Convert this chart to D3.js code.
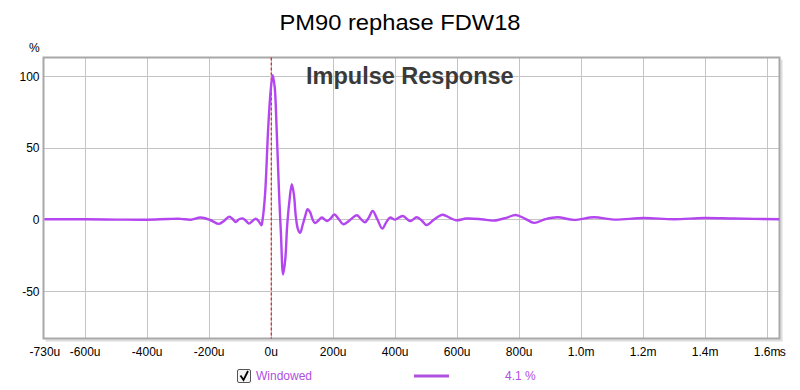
<!DOCTYPE html>
<html><head><meta charset="utf-8">
<script src="https://cdn.jsdelivr.net/npm/d3@7/dist/d3.min.js"></script>
<style>body{margin:0;background:#fff}svg{display:block;font-family:"Liberation Sans",Arial,sans-serif}</style>
</head><body><svg id="c" width="800" height="390"></svg>
<script>
const title = "PM90 rephase FDW18";
const chartLabel = "Impulse Response";
const seriesName = "Windowed";
const seriesNote = "4.1 %";
const xTicks = [-730,-600,-400,-200,0,200,400,600,800,1000,1200,1400,1600];
const xTickLabels = ["-730u","-600u","-400u","-200u","0u","200u","400u","600u","800u","1.0m","1.2m","1.4m","1.6m"];
const yTicks = [-50,0,50,100];
const yTickLabels = ["-50","0","50","100"];
// time in microseconds
const timeUs = [-730,-600,-500,-400,-330,-290,-258,-226,-195,-167,-150,-134,-122,-113,-102,-91,-80,-70,-58,-48,-38,-30,-26,-18,-8,0,6.5,13,19,27,33,40,47,53,60,68,75,81,88,95,103,111,119,127,135,143,153,165,173,181,193,205,220,234,256,278,292,304,316,329,344,360,373,385,401,426,450,471,488,503,528,554,578,598,632,680,720,760,790,820,850,885,925,978,1043,1107,1204,1300,1398,1494,1641];
// impulse response, percent
const valuePct = [0,0,-0.2,-0.3,0.2,0.3,-0.3,1.2,-0.5,-3.2,-1,1.8,0,-1.9,0,0.6,-1,-3,-1,0.4,-1.5,-4.2,0,18,64,90,100.5,92,64,18,-10,-38.5,-28,-5,12,24.5,17,2,-7,-9.5,-4,2,7,5,0,-2.6,-1,1.2,0,-1.2,0.5,3.3,0,-3.5,-0.5,2.8,0,-2.1,1,5.8,0,-6.5,-2,1.2,-0.2,2.3,-1.2,1.4,-1,-4,0,3.2,1,-0.7,0.5,0,-0.9,1,3.0,0.5,-2.5,0,1.4,-0.4,1.4,-0.2,0.9,0,0.9,0.5,0];

const svg = d3.select("#c");
const x = d3.scaleLinear().domain([-730,1641]).range([44.4,779.4]);
const y = d3.scaleLinear().domain([-83,113]).range([338.2,57.4]);
const L=43.5,T=57.5,R=779.5,B=338.5;

svg.append("text").attr("x",400).attr("y",30).attr("text-anchor","middle")
  .attr("font-size",22.5).attr("fill","#000")
  .attr("textLength",241).attr("lengthAdjust","spacingAndGlyphs").text(title);

// grid
const g = svg.append("g");
g.selectAll(".vx").data(xTicks.filter(v=>v>-730)).enter().append("line")
  .attr("x1",d=>Math.round(x(d))+0.5).attr("x2",d=>Math.round(x(d))+0.5).attr("y1",T).attr("y2",B)
  .attr("stroke","#c4c4c4").attr("stroke-width",1);
g.selectAll(".hy").data(yTicks).enter().append("line")
  .attr("y1",d=>Math.round(y(d))+0.5).attr("y2",d=>Math.round(y(d))+0.5).attr("x1",L).attr("x2",R)
  .attr("stroke","#c4c4c4").attr("stroke-width",1);

// frame with shadow
svg.append("line").attr("x1",R+2).attr("x2",R+2).attr("y1",T+2).attr("y2",B+2).attr("stroke","#dcdcdc").attr("stroke-width",2);
svg.append("line").attr("x1",L+2).attr("x2",R+3).attr("y1",B+2).attr("y2",B+2).attr("stroke","#dcdcdc").attr("stroke-width",2);
svg.append("rect").attr("x",L).attr("y",T).attr("width",R-L).attr("height",B-T)
  .attr("fill","none").attr("stroke","#a8a8a8").attr("stroke-width",2);

svg.append("text").attr("x",306).attr("y",84).attr("font-size",23.5).attr("font-weight","bold")
  .attr("fill","#3a3a3a").text(chartLabel);

// zero marker
svg.append("line").attr("x1",x(0)+0.5).attr("x2",x(0)+0.5).attr("y1",T).attr("y2",B)
  .attr("stroke","#cc0000").attr("stroke-width",1).attr("stroke-dasharray","3,2");

// curve
const pts = timeUs.map((t,i)=>[t,valuePct[i]]);
const line = d3.line().x(d=>x(d[0])).y(d=>y(d[1])).curve(d3.curveCatmullRom.alpha(0.5));
svg.append("path").datum(pts).attr("d",line).attr("fill","none")
  .attr("stroke","#b446f0").attr("stroke-width",2.4).attr("stroke-linejoin","round");

// axes
const xa = d3.axisBottom(x).tickValues(xTicks).tickFormat((d,i)=>xTickLabels[i]).tickSize(0).tickPadding(0);
const xg = svg.append("g").attr("transform",`translate(0,${B})`).call(xa);
xg.select(".domain").remove();
xg.selectAll("text").attr("dy",null).attr("y",17.5).attr("font-size",12).attr("fill","#000")
  .attr("font-family","Liberation Sans, Arial, sans-serif");
svg.append("text").attr("x",x(1600)+13).attr("y",B+17.5).attr("font-size",12).attr("fill","#000").text("s");

const ya = d3.axisLeft(y).tickValues(yTicks).tickFormat((d,i)=>yTickLabels[i]).tickSize(0).tickPadding(0);
const yg = svg.append("g").attr("transform",`translate(39.5,0)`).call(ya);
yg.select(".domain").remove();
yg.selectAll("text").attr("dy","0.35em").attr("font-size",12).attr("fill","#000")
  .attr("font-family","Liberation Sans, Arial, sans-serif");
svg.append("text").attr("x",29).attr("y",52).attr("font-size",12).attr("fill","#000").text("%");

// legend
const lg = svg.append("g");
lg.append("rect").attr("x",237.5).attr("y",369.5).attr("width",13).attr("height",13).attr("rx",1.5)
  .attr("fill","#f4f4f4").attr("stroke","#555").attr("stroke-width",1);
lg.append("path").attr("d","M240.5,375.5 L243.5,380 L248,371").attr("fill","none").attr("stroke","#000").attr("stroke-width",1.8);
lg.append("text").attr("x",256).attr("y",380).attr("font-size",12).attr("fill","#b050e0").text(seriesName);
lg.append("line").attr("x1",414).attr("x2",449).attr("y1",376).attr("y2",376).attr("stroke","#b050e0").attr("stroke-width",3);
lg.append("text").attr("x",505).attr("y",380).attr("font-size",12).attr("fill","#b050e0").text(seriesNote);
</script></body></html>
